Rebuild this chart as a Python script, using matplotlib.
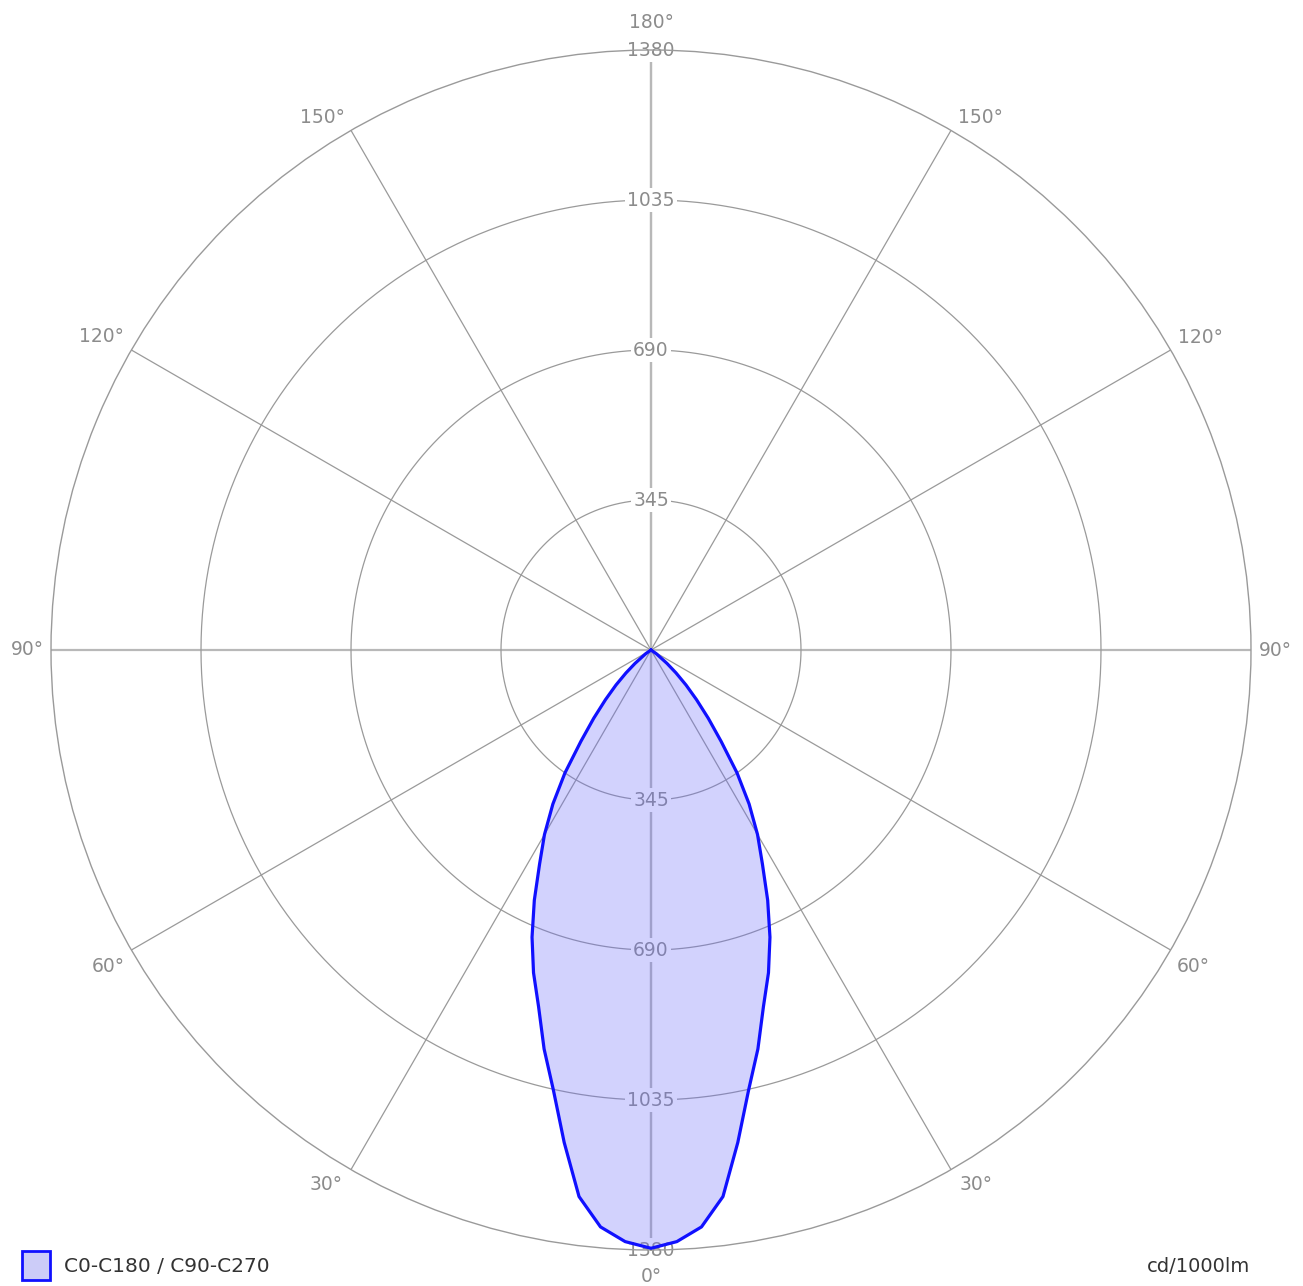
import numpy as np
import matplotlib.pyplot as plt

# gamma angles (deg) and luminous intensity (cd/1000lm), symmetric about 0
gamma = [0, 2.5, 5, 7.5, 10, 12.5, 15, 17.5, 20, 22.5, 25, 27.5, 30, 32.5,
         35, 37.5, 40, 42.5, 45, 47.5, 50, 55, 60, 70, 80, 90]
intensity = [1376, 1362, 1332, 1268, 1150, 1037, 950, 860, 790, 715, 635, 555,
             490, 420, 345, 265, 205, 155, 114, 78, 48, 15, 0, 0, 0, 0]

ring_values = [345, 690, 1035, 1380]
angle_ticks = [0, 30, 60, 90, 120, 150, 180]
series_label = 'C0-C180 / C90-C270'
unit_label = 'cd/1000lm'

rmax = 1380
grid_c = '#9a9a9a'
text_c = '#8c8c8c'

fig = plt.figure(figsize=(13.03, 12.86), dpi=100)
ax = fig.add_axes([51 / 1303, 36 / 1286, 1200 / 1303, 1200 / 1286], projection='polar')
ax.set_theta_zero_location('S')
ax.set_ylim(0, rmax)
ax.grid(False)
ax.set_xticks([])
ax.set_yticks([])
ax.spines['polar'].set_color(grid_c)
ax.spines['polar'].set_linewidth(1.0)

# radial lines
for a in angle_ticks:
    for s in (1, -1):
        th = np.deg2rad(s * a)
        main = a in (0, 90, 180)
        ax.plot([th, th], [0, rmax], color='#b8b8b8' if main else grid_c,
                lw=1.6 if main else 0.9, zorder=1)

# rings
tt = np.linspace(0, 2 * np.pi, 721)
for r in ring_values[:-1]:
    ax.plot(tt, np.full_like(tt, r), color=grid_c, lw=0.9, zorder=1)

# ring labels on the vertical axis (top and bottom)
for r in ring_values:
    for th in (0, np.pi):
        ax.text(th, r, str(r), ha='center', va='center', fontsize=13.5, color=text_c,
                bbox=dict(boxstyle='square,pad=0.12', fc='white', ec='none'), zorder=2)

# angle labels around the outside
offsets = {0: (0, -27), 30: (25, -15), 60: (23, -16), 90: (24, 0),
           120: (30, 13), 150: (29, 13), 180: (0, 28)}
for a in angle_ticks:
    sides = (1,) if a in (0, 180) else (1, -1)
    for s in sides:
        dx, dy = offsets[a]
        ax.annotate(f'{a}°', xy=(np.deg2rad(s * a), rmax), xytext=(s * dx, dy),
                    textcoords='offset pixels', ha='center', va='center',
                    fontsize=13.5, color=text_c, annotation_clip=False)

# intensity curve, mirrored to both sides
g = np.array(gamma, dtype=float)
v = np.array(intensity, dtype=float)
theta = np.deg2rad(np.concatenate([-g[::-1], g[1:]]))
rr = np.concatenate([v[::-1], v[1:]])
ax.fill(theta, rr, color=(0.42, 0.42, 0.98), alpha=0.3, lw=0, zorder=3)
ax.plot(theta, rr, color='#1010ff', lw=2.3, zorder=4)

# legend and unit
fig.patches.append(plt.Rectangle((22 / 1303, 1 - 1280 / 1286), 28 / 1303, 29 / 1286,
                                 transform=fig.transFigure, fc='#ccccf8', ec='#1010ff',
                                 lw=2.0))
fig.text(64 / 1303, 1 - 1266 / 1286, series_label, fontsize=14.5, color='#333333',
         va='center', ha='left')
fig.text(1199 / 1303, 1 - 1266 / 1286, unit_label, fontsize=14, color='#333333',
         va='center', ha='center')

fig.savefig('out.png', dpi=100, facecolor='white')
